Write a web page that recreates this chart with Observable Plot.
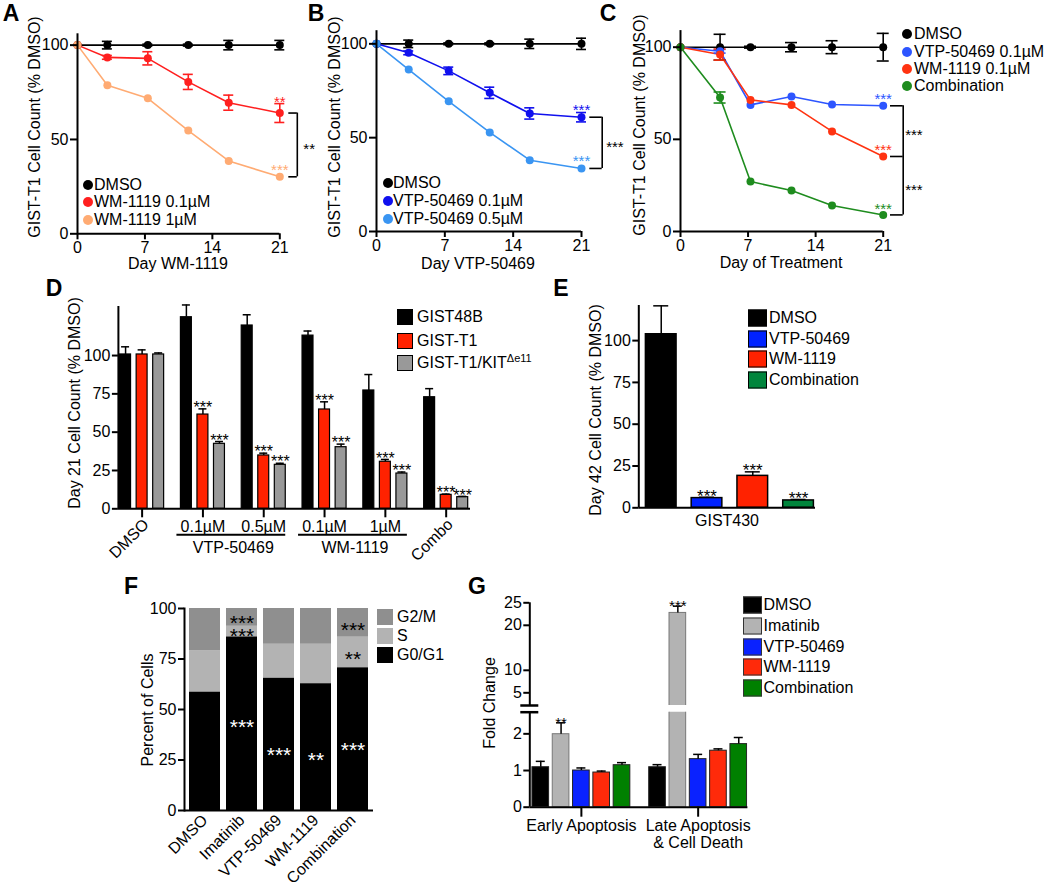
<!DOCTYPE html>
<html><head><meta charset="utf-8">
<script src="https://cdn.jsdelivr.net/npm/d3@7"></script>
<script src="https://cdn.jsdelivr.net/npm/@observablehq/plot@0.6"></script>
<style>
body{margin:0;background:#fff;}
#fig{position:relative;width:1050px;height:882px;overflow:hidden;font-family:"Liberation Sans",Arial,Helvetica,sans-serif;color:#000;background:#fff;}
.t{position:absolute;white-space:nowrap;font-size:16px;line-height:1;}
.t sup{font-size:11px;vertical-align:6px;line-height:0;}
.c{transform:translate(-50%,-50%);}
.l{transform:translateY(-50%);}
.r{transform:translate(-50%,-50%) rotate(-90deg);}
.b{font-weight:bold;font-size:23px;}
.dot{position:absolute;border-radius:50%;transform:translate(-50%,-50%);}
.sw{position:absolute;box-sizing:border-box;transform:translateY(-50%);}
</style></head><body><div id="fig"></div>
<script>
// ---------------- DATA ----------------
// Panel A
const daysA = [0, 3.1, 7.3, 11.5, 15.7, 21];
const seriesA = ["DMSO", "WM-1119 0.1µM", "WM-1119 1µM"];
const colorsA = ["#000000", "#ff1f1f", "#ffab73"];
const dmsoA = [100, 100, 100, 100, 100, 100];
const dmsoAErr = [0, 2, 0.5, 0.5, 2.5, 2.5];
const wm01A = [100, 93.5, 93, 80.5, 69.5, 64];
const wm01AErr = [0, 1, 3.5, 4, 4, 5];
const wm1A = [100, 78.7, 71.8, 54.7, 38.6, 30.2];
const wm1AErr = [0, 0, 0, 0, 0, 0];
const starsA = ["", "**", "***"];
const bracketStarsA = ["**"];

// Panel B
const daysB = [0, 3.3, 7.4, 11.6, 15.7, 21];
const seriesB = ["DMSO", "VTP-50469 0.1µM", "VTP-50469 0.5µM"];
const colorsB = ["#000000", "#1010ee", "#3a95f2"];
const dmsoB = [100, 100, 100, 100, 100, 100];
const dmsoBErr = [0, 2, 0.5, 0.5, 2.5, 3];
const vtp01B = [100, 95.2, 85.6, 73.9, 62.9, 60.9];
const vtp01BErr = [0, 1, 2, 3, 3, 2.5];
const vtp05B = [100, 86.3, 69.4, 52.8, 38.0, 33.6];
const vtp05BErr = [0, 0, 0, 0, 0, 0];
const starsB = ["", "***", "***"];
const bracketStarsB = ["***"];

// Panel C
const daysC = [0, 4.1, 7.25, 11.5, 15.7, 21];
const seriesC = ["DMSO", "VTP-50469 0.1µM", "WM-1119 0.1µM", "Combination"];
const colorsC = ["#000000", "#2d55ff", "#ff3311", "#1e8c1e"];
const dmsoC = [100, 100, 100, 100, 100, 100];
const dmsoCErr = [0, 7, 0.5, 2.5, 3.5, 7.5];
const vtpC = [100, 97.8, 68.7, 73.2, 68.9, 68.2];
const vtpCErr = [0, 1, 0, 0, 0, 0];
const wmC = [100, 96, 71.4, 68.7, 54.3, 40.7];
const wmCErr = [0, 3, 0, 0, 0, 0];
const comboC = [100, 72.7, 27.1, 22.2, 14.1, 9.0];
const comboCErr = [0, 3, 0, 0, 0, 0];
const starsC = ["", "***", "***", "***"];
const bracketStarsC = ["***", "***"];

// Panel D
const groupsD = ["DMSO", "VTP-50469 0.1µM", "VTP-50469 0.5µM", "WM-1119 0.1µM", "WM-1119 1µM", "Combo"];
const doseLabelsD = ["", "0.1µM", "0.5µM", "0.1µM", "1µM", ""];
const rotLabelsD = ["DMSO", "", "", "", "", "Combo"];
const drugSpansD = [{drug: "VTP-50469", first: 1, last: 2}, {drug: "WM-1119", first: 3, last: 4}];
const cellLinesD = ["GIST48B", "GIST-T1", "GIST-T1/KITΔe11"];
const legendD = ["GIST48B", "GIST-T1", "GIST-T1/KIT<sup>Δe11</sup>"];
const colorsD = ["#000000", "#ff2200", "#999999"];
const gist48bD = [100.7, 125, 119.6, 113, 77.2, 72.8];
const gist48bDErr = [5, 8, 7, 3, 10.4, 5.6];
const gistT1D = [100.7, 61.5, 34.8, 64.8, 30.7, 9.1];
const gistT1DErr = [3, 3.7, 1.5, 5, 1.5, 0.5];
const kitD = [100.7, 42.4, 28.7, 40.2, 23, 7.6];
const kitDErr = [1, 1.5, 1, 2, 1, 0.5];
const starsGist48bD = ["", "", "", "", "", ""];
const starsT1D = ["", "***", "***", "***", "***", "***"];
const starsKitD = ["", "***", "***", "***", "***", "***"];

// Panel E
const cellLineE = "GIST430";
const treatmentsE = ["DMSO", "VTP-50469", "WM-1119", "Combination"];
const colorsE = ["#000000", "#0022ff", "#ff2200", "#00853c"];
const gist430E = [103.8, 5.8, 19.1, 4.4];
const gist430EErr = [17, 0.5, 2.4, 0.6];
const starsE = ["", "***", "***", "***"];

// Panel F
const treatmentsF = ["DMSO", "Imatinib", "VTP-50469", "WM-1119", "Combination"];
const phasesF = ["G0/G1", "S", "G2/M"];
const colorsF = ["#000000", "#b3b3b3", "#8f8f8f"];
const g0g1F = [58.7, 86, 65.6, 62.8, 70.7];
const sF = [20.3, 5.2, 16.7, 19.5, 15.1];
const g2mF = [21.0, 8.8, 17.7, 17.7, 14.2];
const starsFBlack = [
  {treatment: "Imatinib", y: 95, text: "***"},
  {treatment: "Imatinib", y: 88.6, text: "***"},
  {treatment: "Combination", y: 91.6, text: "***"},
  {treatment: "Combination", y: 77.5, text: "**"}
];
const starsFWhite = [
  {treatment: "Imatinib", y: 43.7, text: "***"},
  {treatment: "VTP-50469", y: 29.7, text: "***"},
  {treatment: "WM-1119", y: 27.2, text: "**"},
  {treatment: "Combination", y: 32.2, text: "***"}
];

// Panel G (broken y axis: lower 0–2.59, upper 2.18–25)
const phasesG = ["Early Apoptosis", "Late Apoptosis\n& Cell Death"];
const treatmentsG = ["DMSO", "Imatinib", "VTP-50469", "WM-1119", "Combination"];
const colorsG = ["#000000", "#b3b3b3", "#0a22ff", "#ff2a0a", "#008000"];
const earlyG = [1.09, 1.99, 1.0, 0.945, 1.145];
const earlyGErr = [0.16, 0.31, 0.07, 0.04, 0.07];
const lateG = [1.09, 22.75, 1.31, 1.54, 1.72];
const lateGErr = [0.07, 1.5, 0.13, 0.05, 0.18];
const starsEarlyG = ["", "**", "", "", ""];
const starsLateG = ["", "***", "", "", ""];
const lowerTicksG = [0, 1, 2];
const upperTicksG = [5, 10, 20, 25];
const lowerDomainG = [0, 2.59];
const upperDomainG = [2.18, 25];

// ---------------- HELPERS ----------------
const FONT = '"Liberation Sans", Arial, Helvetica, sans-serif';
const baseStyle = {background: "transparent", fontSize: "16px", fontFamily: FONT, color: "#000", overflow: "visible"};
const fig = document.getElementById("fig");
function place(el, left, top) {
  el.style.position = "absolute"; el.style.left = left + "px"; el.style.top = top + "px";
  el.style.maxWidth = "none";
  fig.appendChild(el);
}
function label(html, x, y, mode, extra) {
  const d = document.createElement("div");
  d.className = "t " + mode;
  d.innerHTML = html;
  d.style.left = x + "px"; d.style.top = y + "px";
  if (extra) Object.assign(d.style, extra);
  fig.appendChild(d);
}
function boxMargins(box, fr) {
  return {width: box.w, height: box.h,
    marginLeft: fr.x0 - box.left, marginRight: box.left + box.w - fr.x1,
    marginTop: fr.yTop - box.top, marginBottom: box.top + box.h - fr.y0};
}
function dotLegend(names, colors, cx, ys, tx) {
  names.forEach((n, i) => {
    const d = document.createElement("div"); d.className = "dot";
    d.style.cssText = `left:${cx}px;top:${ys[i]}px;width:10px;height:10px;background:${colors[i]}`;
    fig.appendChild(d);
    label(n, tx, ys[i], "l");
  });
}
function swatchLegend(names, colors, x, ys, w, h, tx, border) {
  names.forEach((n, i) => {
    const d = document.createElement("div"); d.className = "sw";
    d.style.cssText = `left:${x}px;top:${ys[i]}px;width:${w}px;height:${h}px;background:${colors[i]};border:${border}`;
    fig.appendChild(d);
    label(n, tx, ys[i], "l");
  });
}

// ---------------- LINE PANELS (A, B, C) ----------------
function linePanel(p) {
  const last = p.days[p.days.length - 1];
  const rows = [];
  p.series.forEach(s => s.values.forEach((v, i) => rows.push({series: s.name, day: p.days[i], value: v, err: s.err[i]})));
  const errRows = rows.filter(d => d.err > 0);
  const starRows = p.series.filter(s => s.star).map(s => {
    const r = rows.find(d => d.series === s.name && d.day === last);
    return {...r, label: s.star, ys: Math.max(r.value + r.err, r.value + p.starPad)};
  });
  const br = p.bracket;
  const brY = br.series.map(n => rows.find(d => d.series === n && d.day === last).value);
  const brLabels = br.labels.map((t, i) => ({t, y: (brY[i] + brY[i + 1]) / 2}));
  const svg = Plot.plot({
    ...boxMargins(p.box, p.frame),
    style: baseStyle,
    x: {domain: [0, last]},
    y: {domain: p.yDomain},
    color: {domain: p.series.map(s => s.name), range: p.series.map(s => s.color)},
    marks: [
      Plot.line(rows, {x: "day", y: "value", z: "series", stroke: "series", strokeWidth: 1.6}),
      Plot.ruleX(errRows, {x: "day", y1: d => d.value - d.err, y2: d => d.value + d.err, stroke: "series", strokeWidth: 1.6}),
      Plot.ruleY(errRows, {x1: "day", x2: "day", y: d => d.value + d.err, stroke: "series", strokeWidth: 1.6, insetLeft: -p.cap, insetRight: -p.cap}),
      Plot.ruleY(errRows, {x1: "day", x2: "day", y: d => d.value - d.err, stroke: "series", strokeWidth: 1.6, insetLeft: -p.cap, insetRight: -p.cap}),
      Plot.dot(rows, {x: "day", y: "value", fill: "series", r: 4}),
      Plot.text(starRows, {x: "day", y: "ys", text: "label", fill: "series", fontSize: 15, dy: -1}),
      Plot.ruleY(brY, {x1: () => last, x2: () => last, insetLeft: br.d1, insetRight: -br.d2, strokeWidth: 1.6}),
      Plot.ruleX([last], {y1: d3.min(brY), y2: d3.max(brY), dx: br.d2, strokeWidth: 1.6}),
      Plot.text(brLabels, {x: () => last, y: "y", text: "t", dx: br.d2 + br.gap, dy: 4, textAnchor: "start", fontSize: 15}),
      Plot.ruleY([0], {strokeWidth: 2}),
      Plot.ruleX([0], {strokeWidth: 2}),
      Plot.axisY({ticks: [0, 50, 100], tickSize: 7, tickPadding: 2, strokeWidth: 2, label: null}),
      Plot.axisX({ticks: [0, 7, 14, 21], tickSize: 6, tickPadding: 2, strokeWidth: 2, label: null})
    ]
  });
  place(svg, p.box.left, p.box.top);
}

linePanel({
  box: {left: 0, top: 0, w: 330, h: 275}, frame: {x0: 77, x1: 279.3, yTop: 33.3, y0: 233.3},
  yDomain: [0, 106], days: daysA, cap: 5, starPad: 3.2,
  series: [
    {name: seriesA[0], color: colorsA[0], values: dmsoA, err: dmsoAErr, star: starsA[0]},
    {name: seriesA[1], color: colorsA[1], values: wm01A, err: wm01AErr, star: starsA[1]},
    {name: seriesA[2], color: colorsA[2], values: wm1A, err: wm1AErr, star: starsA[2]}
  ],
  bracket: {series: [seriesA[1], seriesA[2]], labels: bracketStarsA, d1: 9, d2: 17.5, gap: 6}
});
linePanel({
  box: {left: 300, top: 0, w: 340, h: 275}, frame: {x0: 376, x1: 581, yTop: 30.2, y0: 231},
  yDomain: [0, 107], days: daysB, cap: 5, starPad: 3.2,
  series: [
    {name: seriesB[0], color: colorsB[0], values: dmsoB, err: dmsoBErr, star: starsB[0]},
    {name: seriesB[1], color: colorsB[1], values: vtp01B, err: vtp01BErr, star: starsB[1]},
    {name: seriesB[2], color: colorsB[2], values: vtp05B, err: vtp05BErr, star: starsB[2]}
  ],
  bracket: {series: [seriesB[1], seriesB[2]], labels: bracketStarsB, d1: 8.3, d2: 20.7, gap: 4}
});
linePanel({
  box: {left: 620, top: 0, w: 320, h: 275}, frame: {x0: 680, x1: 882.7, yTop: 30.1, y0: 231},
  yDomain: [0, 109], days: daysC, cap: 6, starPad: 2.8,
  series: [
    {name: seriesC[0], color: colorsC[0], values: dmsoC, err: dmsoCErr, star: starsC[0]},
    {name: seriesC[1], color: colorsC[1], values: vtpC, err: vtpCErr, star: starsC[1]},
    {name: seriesC[2], color: colorsC[2], values: wmC, err: wmCErr, star: starsC[2]},
    {name: seriesC[3], color: colorsC[3], values: comboC, err: comboCErr, star: starsC[3]}
  ],
  bracket: {series: [seriesC[1], seriesC[2], seriesC[3]], labels: bracketStarsC, d1: 7.3, d2: 20, gap: 2}
});

// ---------------- PANEL D ----------------
{
  const vals = [gist48bD, gistT1D, kitD], errs = [gist48bDErr, gistT1DErr, kitDErr], stars = [starsGist48bD, starsT1D, starsKitD];
  const rows = [];
  cellLinesD.forEach((c, j) => groupsD.forEach((g, i) => rows.push({cell: c, g: i, x: i + (j - 1) * 0.272, value: vals[j][i], err: errs[j][i], star: stars[j][i]})));
  const doseRows = doseLabelsD.map((t, g) => ({g, t})).filter(d => d.t);
  const rotRows = rotLabelsD.map((t, g) => ({g, t})).filter(d => d.t);
  const xDom = [-0.39, 5.40];
  const svg = Plot.plot({
    ...boxMargins({left: 0, top: 270, w: 560, h: 300}, {x0: 117.9, x1: 470, yTop: 306, y0: 508.3}),
    style: baseStyle,
    x: {domain: xDom}, y: {domain: [0, 132]},
    color: {domain: cellLinesD, range: colorsD},
    marks: [
      Plot.rect(rows, {x1: d => d.x - 0.09, x2: d => d.x + 0.09, y1: () => 0, y2: "value", fill: "cell", stroke: "#000", strokeWidth: 1.2}),
      Plot.ruleX(rows, {x: "x", y1: "value", y2: d => d.value + d.err, strokeWidth: 1.5}),
      Plot.ruleY(rows, {x1: "x", x2: "x", y: d => d.value + d.err, insetLeft: -4, insetRight: -4, strokeWidth: 1.5}),
      Plot.text(rows.filter(d => d.star), {x: "x", y: d => d.value + d.err, text: "star", fontSize: 16, dy: -1}),
      Plot.ruleX([xDom[0]], {strokeWidth: 2}),
      Plot.ruleY([0], {strokeWidth: 2}),
      Plot.axisY({ticks: [0, 25, 50, 75, 100], tickSize: 6, tickPadding: 2, strokeWidth: 2, label: null}),
      Plot.axisX({ticks: d3.range(groupsD.length), tickSize: 9, strokeWidth: 2, tickFormat: () => "", label: null}),
      Plot.text(doseRows, {x: "g", y: () => 0, text: "t", dy: 18}),
      Plot.text(rotRows, {x: "g", y: () => 0, text: "t", rotate: -45, textAnchor: "end", dx: 4, dy: 13}),
      Plot.ruleY(drugSpansD, {x1: "first", x2: "last", y: () => 0, dy: 26, insetLeft: -26, insetRight: -22, strokeWidth: 2}),
      Plot.text(drugSpansD, {x: d => (d.first + d.last) / 2, y: () => 0, text: "drug", dy: 39})
    ]
  });
  place(svg, 0, 270);
}

// ---------------- PANEL E ----------------
{
  const rows = treatmentsE.map((t, i) => ({t, i, value: gist430E[i], err: gist430EErr[i], star: starsE[i]}));
  const xDom = [-0.49, 3.37];
  const svg = Plot.plot({
    ...boxMargins({left: 560, top: 270, w: 300, h: 300}, {x0: 638.3, x1: 815, yTop: 305, y0: 507.3}),
    style: baseStyle,
    x: {domain: xDom, axis: null}, y: {domain: [0, 121]},
    color: {domain: treatmentsE, range: colorsE},
    marks: [
      Plot.rect(rows, {x1: d => d.i - 0.335, x2: d => d.i + 0.335, y1: () => 0, y2: "value", fill: "t", stroke: "#000", strokeWidth: 1.5}),
      Plot.ruleX(rows, {x: "i", y1: "value", y2: d => d.value + d.err, strokeWidth: 1.5}),
      Plot.ruleY(rows, {x1: "i", x2: "i", y: d => d.value + d.err, insetLeft: -7.5, insetRight: -7.5, strokeWidth: 1.5}),
      Plot.text(rows.filter(d => d.star), {x: "i", y: d => d.value + d.err, text: "star", fontSize: 17, dy: -1}),
      Plot.ruleX([xDom[0]], {strokeWidth: 2}),
      Plot.ruleY([0], {strokeWidth: 2}),
      Plot.axisY({ticks: [0, 25, 50, 75, 100], tickSize: 6, tickPadding: 2, strokeWidth: 2, label: null})
    ]
  });
  place(svg, 560, 270);
}

// ---------------- PANEL F ----------------
{
  const vals = [g0g1F, sF, g2mF];
  const rows = [];
  phasesF.forEach((ph, j) => treatmentsF.forEach((t, i) => rows.push({treatment: t, phase: ph, value: vals[j][i]})));
  const svg = Plot.plot({
    ...boxMargins({left: 100, top: 560, w: 330, h: 322}, {x0: 184, x1: 373, yTop: 608, y0: 810}),
    style: baseStyle,
    x: {domain: treatmentsF, paddingInner: 0.17, paddingOuter: 0.105},
    y: {domain: [0, 100]},
    color: {domain: phasesF, range: colorsF},
    marks: [
      Plot.barY(rows, {x: "treatment", y: "value", fill: "phase"}),
      Plot.text(starsFBlack, {x: "treatment", y: "y", text: "text", fill: "black", fontSize: 21, dy: 5}),
      Plot.text(starsFWhite, {x: "treatment", y: "y", text: "text", fill: "white", fontSize: 21, dy: 5}),
      Plot.frame({anchor: "left", strokeWidth: 2}),
      Plot.ruleY([0], {strokeWidth: 2}),
      Plot.axisY({ticks: [0, 25, 50, 75, 100], tickSize: 6, tickPadding: 2, strokeWidth: 2, label: null}),
      Plot.axisX({tickRotate: -45, tickSize: 0, tickPadding: 7, label: null})
    ]
  });
  place(svg, 100, 560);
}

// ---------------- PANEL G (two stacked plots for the broken axis) ----------------
{
  const groupGap = 5.75;
  const vals = [earlyG, lateG], errs = [earlyGErr, lateGErr], stars = [starsEarlyG, starsLateG];
  const rows = [];
  phasesG.forEach((g, gi) => treatmentsG.forEach((t, ti) => rows.push({group: g, treatment: t, x: gi * groupGap + ti, value: vals[gi][ti], err: errs[gi][ti], star: stars[gi][ti]})));
  const centers = phasesG.map((g, gi) => ({g, x: gi * groupGap + (treatmentsG.length - 1) / 2}));
  const xDom = [-0.54, 10.2];
  const cut = lowerDomainG[1];
  const inUpper = d => d.value + d.err > cut;
  const barMarks = (isUpper) => {
    const sel = isUpper ? inUpper : d => !inUpper(d);
    return [
      Plot.rect(rows, {x1: d => d.x - 0.41, x2: d => d.x + 0.41, y1: () => 0, y2: "value", fill: "treatment", stroke: d => d.treatment === "Imatinib" ? "#777777" : "#222222", strokeWidth: 1, clip: true}),
      Plot.ruleX(rows.filter(sel), {x: "x", y1: "value", y2: d => d.value + d.err, strokeWidth: 1.5, clip: true}),
      Plot.ruleY(rows.filter(sel), {x1: "x", x2: "x", y: d => d.value + d.err, insetLeft: -4.5, insetRight: -4.5, strokeWidth: 1.5}),
      Plot.text(rows.filter(d => d.star && sel(d)), {x: "x", y: d => d.value + d.err, text: "star", fontSize: 15, dy: 0}),
      Plot.ruleX([xDom[0]], {strokeWidth: 2})
    ];
  };
  const colorOpt = {domain: treatmentsG, range: colorsG};
  // upper part
  const up = Plot.plot({
    ...boxMargins({left: 440, top: 560, w: 330, h: 150}, {x0: 529.3, x1: 747.4, yTop: 602.3, y0: 705}),
    style: baseStyle,
    x: {domain: xDom, axis: null}, y: {domain: upperDomainG},
    color: colorOpt,
    marks: [
      ...barMarks(true),
      Plot.ruleY([upperDomainG[0]], {x1: () => xDom[0], x2: () => xDom[0], insetLeft: -9, insetRight: -9, strokeWidth: 2.5}),
      Plot.axisY({ticks: upperTicksG, tickSize: 6, tickPadding: 2, strokeWidth: 2, tickFormat: d => String(d), label: null})
    ]
  });
  place(up, 440, 560);
  // lower part
  const low = Plot.plot({
    ...boxMargins({left: 440, top: 700, w: 330, h: 182}, {x0: 529.3, x1: 747.4, yTop: 711.7, y0: 806.7}),
    style: baseStyle,
    x: {domain: xDom}, y: {domain: lowerDomainG},
    color: colorOpt,
    marks: [
      ...barMarks(false),
      Plot.ruleY([lowerDomainG[1]], {x1: () => xDom[0], x2: () => xDom[0], insetLeft: -9, insetRight: -9, strokeWidth: 2.5}),
      Plot.ruleY([0], {strokeWidth: 2}),
      Plot.axisY({ticks: lowerTicksG, tickSize: 6, tickPadding: 2, strokeWidth: 2, tickFormat: d => String(d), label: null}),
      Plot.axisX({ticks: centers.map(d => d.x), tickSize: 10, strokeWidth: 2, tickFormat: () => "", label: null}),
      Plot.text(centers, {x: "x", y: () => 0, text: "g", lineAnchor: "top", dy: 11, lineHeight: 1.1})
    ]
  });
  place(low, 440, 700);
}

// ---------------- HTML TEXT: letters, titles, legends ----------------
label("A", 11, 13, "c b"); label("B", 316, 13, "c b"); label("C", 608, 13, "c b");
label("D", 54, 288, "c b"); label("E", 561, 288, "c b");
label("F", 131, 586, "c b"); label("G", 477, 586, "c b");

label("GIST-T1 Cell Count (% DMSO)", 35, 127, "r");
label("GIST-T1 Cell Count (% DMSO)", 335, 127, "r");
label("GIST-T1 Cell Count (% DMSO)", 640, 125, "r");
label("Day WM-1119", 178, 264, "c");
label("Day VTP-50469", 478, 264, "c");
label("Day of Treatment", 781, 263, "c");
label("Day 21 Cell Count (% DMSO)", 75, 403, "r");
label("Day 42 Cell Count (% DMSO)", 596, 410, "r");
label(cellLineE, 727, 521, "c");
label("Percent of Cells", 148, 710, "r");
label("Fold Change", 490, 703, "r");

dotLegend(seriesA, colorsA, 88, [185, 202, 220], 94);
dotLegend(seriesB, colorsB, 388, [183, 201, 219], 393);
dotLegend(seriesC, colorsC, 907, [34, 52, 69, 86], 914);
swatchLegend(legendD, colorsD, 397, [316.7, 340.7, 362.7], 16, 16, 417, "1.5px solid #000");
swatchLegend(treatmentsE, colorsE, 748, [318, 339, 359, 380], 19, 17, 769, "1.5px solid #000");
swatchLegend(phasesF.slice().reverse(), colorsF.slice().reverse(), 377, [617, 636, 655], 16, 16, 397, "none");
swatchLegend(treatmentsG, colorsG, 742.6, [605, 625.7, 646.7, 666.7, 687.7], 19, 17, 763.5, "1px solid #333");
</script></body></html>
